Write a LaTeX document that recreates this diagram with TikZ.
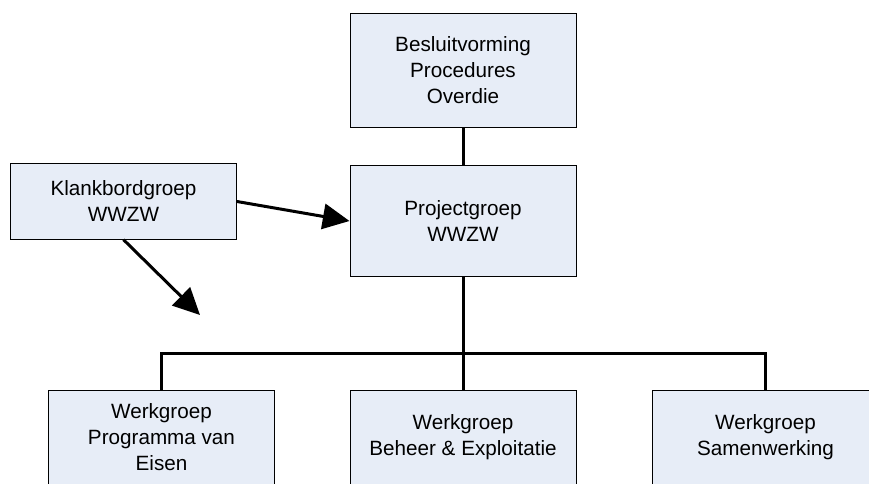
\documentclass[tikz,border=0pt]{standalone}
\usepackage{fontspec}
\setmainfont{Liberation Sans}
\usetikzlibrary{arrows.meta}
\definecolor{boxfill}{HTML}{E7EDF7}
\tikzset{
  groep/.style={draw=black, line width=0.75pt, fill=boxfill, align=center,
    minimum width=169.5pt, inner sep=0pt,
    font=\fontsize{15.5}{19.5}\selectfont},
  verbind/.style={line width=2.25pt},
  pijl/.style={line width=2.25pt, -{Triangle[length=20pt,width=19pt]}}
}
\begin{document}
\begin{tikzpicture}[x=0.75pt, y=-0.75pt]
    \useasboundingbox (0,0) rectangle (869,483);
    \node[groep, minimum height=85.5pt] (besluit) at (463,70) {Besluitvorming\\Procedures\\Overdie};
    \node[groep, minimum height=83.5pt] (project) at (463,221) {Projectgroep\\WWZW};
    \node[groep, minimum height=56.5pt] (klank) at (123.5,201.5) {Klankbordgroep\\WWZW};
    \node[groep, minimum height=70.5pt] (wpve) at (161.5,437.5) {Werkgroep\\Programma van\\Eisen};
    \node[groep, minimum height=70.5pt] (wbe) at (463,437.5) {Werkgroep\\Beheer \& Exploitatie};
    \node[groep, minimum height=70.5pt] (wsw) at (765.5,437.5) {Werkgroep\\Samenwerking};
    \coordinate (bus) at (463,353); \coordinate (pijlpunt) at (200,315);
    \draw[verbind] (besluit.south) -- (project.south |- project.north);
    \draw[verbind] (project.south) -- (wbe.north);
    \draw[verbind] (wpve.north) |- (bus) -| (wsw.north);
    \draw[pijl] (klank.east) -- (project.west);
    \draw[pijl] (klank.south) -- (pijlpunt);
  \end{tikzpicture}
\end{document}
